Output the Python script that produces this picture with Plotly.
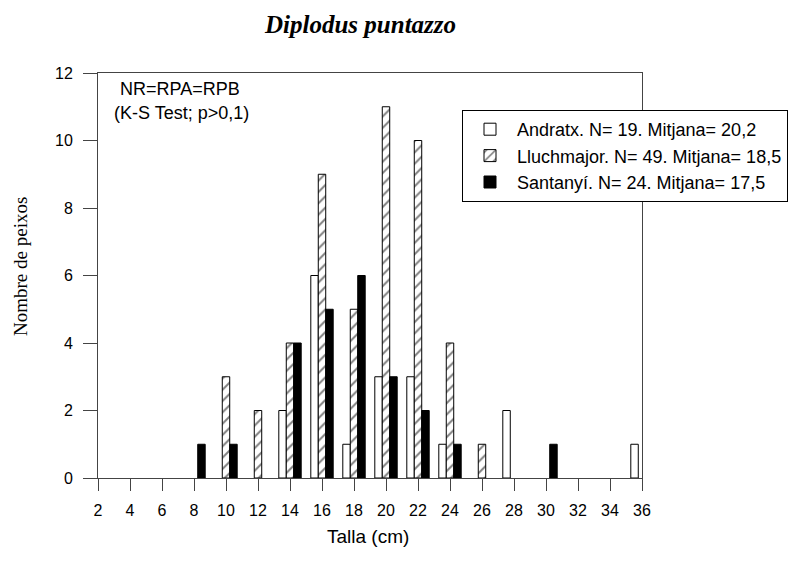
import plotly.graph_objects as go

# Data
bins = [8, 10, 12, 14, 16, 18, 20, 22, 24, 26, 28, 30, 32, 34, 36]
andratx = [0, 0, 0, 2, 6, 1, 3, 3, 1, 0, 2, 0, 0, 0, 1]
lluchmajor = [0, 3, 2, 4, 9, 5, 11, 10, 4, 1, 0, 0, 0, 0, 0]
santanyi = [1, 1, 0, 4, 5, 6, 3, 2, 1, 0, 0, 1, 0, 0, 0]
names = [
    "Andratx. N= 19. Mitjana= 20,2",
    "Lluchmajor. N= 49. Mitjana= 18,5",
    "Santanyí. N= 24. Mitjana= 17,5",
]
xticks = list(range(2, 37, 2))
yticks = list(range(0, 13, 2))

SANS = "Liberation Sans, Arial, sans-serif"
SERIF = "Liberation Serif, Times New Roman, serif"


def nz(vals):
    # empty classes are not drawn
    return [v if v != 0 else None for v in vals]


fig = go.Figure()
fig.add_trace(go.Bar(x=bins, y=nz(andratx), name=names[0],
                     marker=dict(color="white", line=dict(color="black", width=1))))
fig.add_trace(go.Bar(x=bins, y=nz(lluchmajor), name=names[1],
                     marker=dict(color="white", line=dict(color="black", width=1),
                                 pattern=dict(shape="/", fgcolor="black", bgcolor="white",
                                              size=8, solidity=0.25))))
fig.add_trace(go.Bar(x=bins, y=nz(santanyi), name=names[2],
                     marker=dict(color="black", line=dict(color="black", width=1))))

L, R, T, B = 98, 146, 73, 88
W, H = 788, 566
pw, ph = W - L - R, H - T - B


def px_x(px):
    return (px - L) / pw


def px_y(py):
    return (H - B - py) / ph


def ann(text, x, y, font, angle=0):
    return dict(text=text, xref="paper", yref="paper", x=px_x(x), y=px_y(y),
                xanchor="center", yanchor="middle", showarrow=False,
                textangle=angle, font=font)


fig.update_layout(
    width=W, height=H,
    margin=dict(l=L, r=R, t=T, b=B, autoexpand=False),
    paper_bgcolor="white", plot_bgcolor="white",
    barmode="group", bargap=0.3, bargroupgap=0,
    showlegend=True,
    legend=dict(x=px_x(462), y=px_y(110), xanchor="left", yanchor="top",
                bordercolor="black", borderwidth=1, bgcolor="white",
                font=dict(family=SANS, size=18, color="black"),
                tracegroupgap=0, itemwidth=44),
    xaxis=dict(range=[2, 36], tickvals=xticks, ticktext=[str(v) for v in xticks],
               ticks="outside", ticklen=12, tickcolor="#444", showline=True,
               linecolor="#444", linewidth=1, mirror=True, showgrid=False, zeroline=False,
               ticklabelstandoff=6,
               tickfont=dict(family=SANS, size=16, color="black")),
    yaxis=dict(range=[0, 12], tickvals=yticks, ticks="outside", ticklen=14,
               tickcolor="#444", showline=True, linecolor="#444", linewidth=1,
               mirror=True, showgrid=False, zeroline=False,
               ticklabelstandoff=7,
               tickfont=dict(family=SANS, size=16, color="black")),
    annotations=[
        ann("<b><i>Diplodus puntazzo</i></b>", 360, 24,
            dict(family=SERIF, size=25, color="black")),
        ann("Talla (cm)", 368, 536, dict(family=SANS, size=19, color="black")),
        ann("Nombre de peixos", 20, 267, dict(family=SERIF, size=19, color="black"), -90),
        ann("NR=RPA=RPB", 180, 89, dict(family=SANS, size=18, color="black")),
        ann("(K-S Test; p>0,1)", 181, 113, dict(family=SANS, size=18, color="black")),
    ],
)

fig.write_html("out.html")
